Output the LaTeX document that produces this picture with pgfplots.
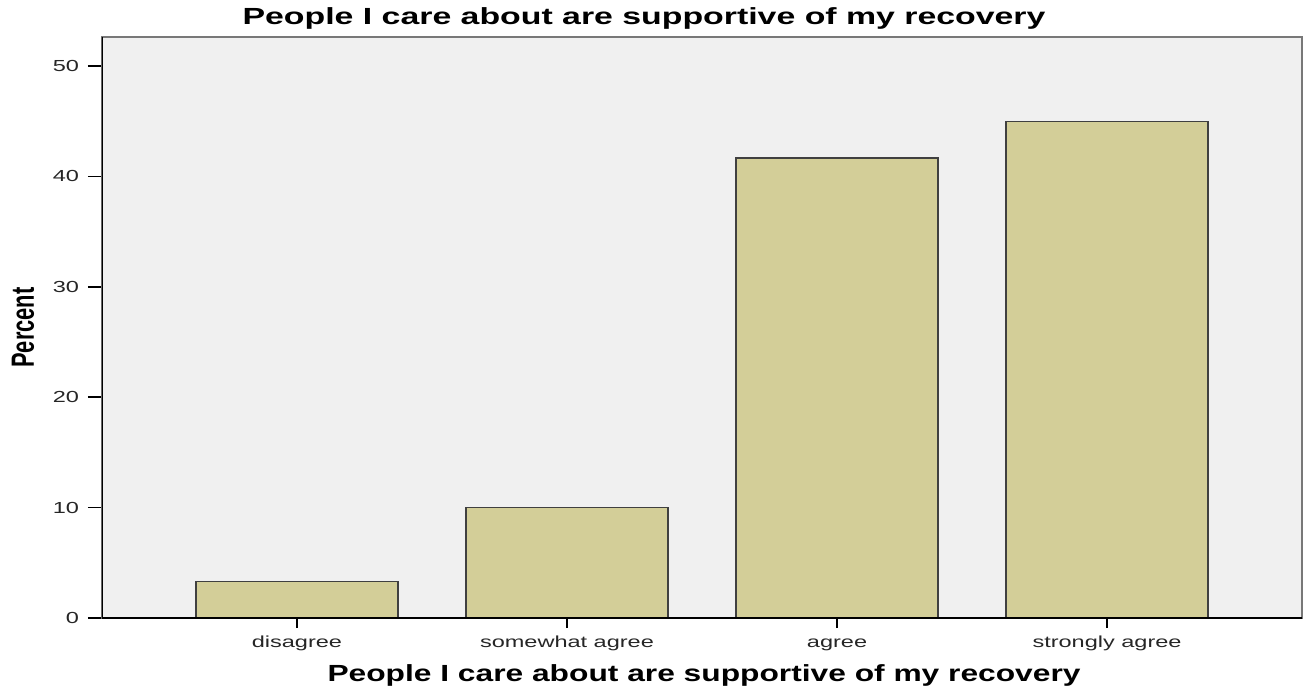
\documentclass[border=0pt]{standalone}
\usepackage{fontspec}
\setmainfont[FakeStretch=1.47]{Liberation Sans}
\newfontfamily\plainsans{Liberation Sans}
\newfontfamily\titlesans[FakeStretch=1.45]{Liberation Sans}
\newfontfamily\labelsans[FakeStretch=1.36]{Liberation Sans}
\usepackage{graphicx}
\usepackage{pgfplots}
\pgfplotsset{compat=1.18}

\definecolor{barfill}{RGB}{211,206,152}
\definecolor{plotbg}{RGB}{240,240,240}
\definecolor{framegray}{RGB}{120,120,120}

\begin{document}
\begin{tikzpicture}
\path[use as bounding box] (-76.5pt,-51.75pt) rectangle (905.25pt,463.5pt);
\begin{axis}[
    scale only axis,
    width=900pt, height=435.75pt,
    xmin=-0.722, xmax=3.722,
    ymin=0, ymax=52.63,
    xtick={0,1,2,3},
    xticklabels={disagree,somewhat agree,agree,strongly agree},
    ytick={0,10,20,30,40,50},
    tick pos=left,
    tick align=outside,
    xtick style={black, line width=1.1pt, /pgfplots/major tick length=7.5pt},
    ytick style={black, line width=1.1pt, /pgfplots/major tick length=10.5pt},
    axis line style={draw=framegray, line width=1pt},
    axis background/.style={fill=plotbg},
    ticklabel style={font=\fontsize{12}{14}\selectfont, text=black!85},
    /pgf/number format/assume math mode=true,
    yticklabel style={anchor=east, inner sep=0pt, xshift=-12.75pt},
    xticklabel style={anchor=base, inner sep=0pt, yshift=-18pt},
    title={\titlesans\bfseries People I care about are supportive of my recovery},
    title style={at={(axis description cs:0.4517,1.0069)}, anchor=base, inner sep=0pt,
                 font=\fontsize{17.5}{20}\selectfont},
    xlabel={\labelsans\bfseries People I care about are supportive of my recovery},
    every axis x label/.style={at={(axis description cs:0.5017,-0.110)}, anchor=base, inner sep=0pt,
                 font=\fontsize{17.5}{20}\selectfont},
    ylabel={\scalebox{1.47}[1]{\rotatebox{90}{\plainsans\bfseries Percent}}},
    every axis y label/.style={at={(axis description cs:-0.0658,0.5)}, anchor=center, inner sep=0pt,
                 font=\fontsize{16.4}{18}\selectfont},
]
\addplot[ybar, bar width=0.748, fill=barfill, draw=black!75, line width=0.9pt]
    coordinates {(0,3.33) (1,10) (2,41.67) (3,45)};
\draw[black, line width=1.3pt] (rel axis cs:0,1) -- (rel axis cs:0,0) -- (rel axis cs:1,0);
\end{axis}
\end{tikzpicture}
\end{document}
